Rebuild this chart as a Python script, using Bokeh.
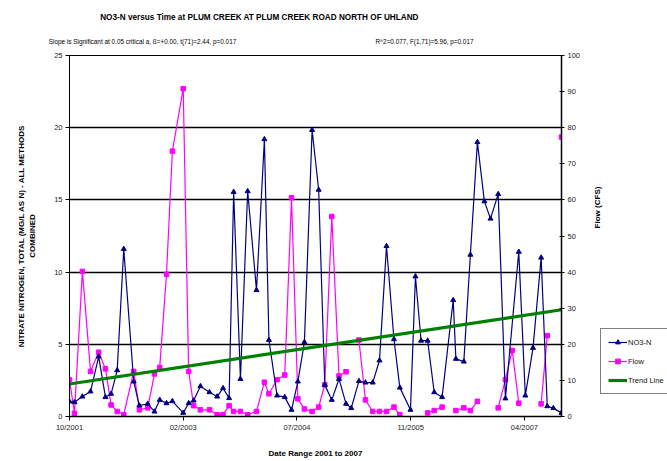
import math
import pandas as pd
from bokeh.plotting import figure
from bokeh.layouts import row
from bokeh.models import (Range1d, LinearAxis, FixedTicker, DatetimeTickFormatter,
                          Legend, LegendItem, ColumnDataSource, Label)
from bokeh.embed import file_html
from bokeh.resources import INLINE

# ---------------- data ----------------
title_text = "NO3-N versus Time at PLUM CREEK AT PLUM CREEK ROAD NORTH OF UHLAND"
stats_left = "Slope is Significant at 0.05 critical a, \u00df=+0.00, t(71)=2.44, p=0.017"
stats_right = "R^2=0.077, F(1,71)=5.96, p=0.017"
y_left_title = "NITRATE NITROGEN, TOTAL (MG/L AS N) - ALL METHODS\nCOMBINED"
y_right_title = "Flow (CFS)"
x_title = "Date Range 2001 to 2007"
series_names = ["NO3-N", "Flow", "Trend Line"]

nan = float("nan")

sample_dates = [
    "2001-10-09", "2001-10-31", "2001-12-05", "2002-01-10", "2002-02-15", "2002-03-17",
    "2002-04-11", "2002-05-08", "2002-06-06", "2002-07-20", "2002-08-14", "2002-09-20",
    "2002-10-20", "2002-11-12", "2002-12-12", "2003-01-07", "2003-02-24", "2003-03-20",
    "2003-04-11", "2003-05-11", "2003-06-20", "2003-07-24", "2003-08-19", "2003-09-15",
    "2003-10-05", "2003-11-04", "2003-12-06", "2004-01-14", "2004-02-18", "2004-03-09",
    "2004-04-14", "2004-05-18", "2004-06-17", "2004-07-15", "2004-08-13", "2004-09-16",
    "2004-10-15", "2004-11-11", "2004-12-12", "2005-01-13", "2005-02-13", "2005-03-08",
    "2005-04-11", "2005-05-10", "2005-06-11", "2005-07-11", "2005-08-11", "2005-09-13",
    "2005-10-09", "2005-11-25", "2005-12-17", "2006-01-11", "2006-02-09", "2006-03-10",
    "2006-04-14", "2006-06-02", "2006-06-14", "2006-07-19", "2006-08-17", "2006-09-17",
    "2006-10-18", "2006-11-14", "2006-12-18", "2007-01-19", "2007-02-18", "2007-03-19",
    "2007-04-17", "2007-05-21", "2007-06-26", "2007-07-23", "2007-08-19", "2007-09-24",
]

no3_n = [
    1.04, 0.99, 1.38, 1.73, 4.15, 1.34,
    1.57, 3.2, 11.6, 2.42, 0.76, 0.88,
    0.34, 1.15, 0.92, 1.06, 0.25, 0.92,
    1.11, 2.1, 1.68, 1.38, 1.96, 1.27,
    15.55, 2.6, 15.6, 8.75, 19.2, 5.3,
    1.45, 1.34, 0.46, 2.42, 5.15, 19.84,
    15.7, 2.19, 1.15, 2.6, 0.88, 0.58,
    2.45, 2.35, 2.35, 3.88, 11.8, 5.35,
    2.0, 0.46, 9.7, 5.25, 5.25, 1.68,
    1.34, 8.06, 3.99, 3.8, 11.2, 19.0,
    14.9, 13.7, 15.4, 1.25, nan, 11.4,
    1.45, 4.75, 11.0, 0.71, 0.58, 0.25,
]

flow_cfs = [
    10.2, 0.9, 40.2, 12.5, 17.8, 13.2,
    3.2, 1.4, 0.5, 12.5, 1.85, 2.4,
    11.8, 13.6, 39.4, 73.5, 90.8, 12.5,
    3.0, 1.85, 1.85, 0.5, 0.5, 3.0,
    1.4, 1.4, 0.5, 1.4, 9.5, 6.3,
    10.2, 11.5, 60.6, 4.9, 2.1, 1.4,
    2.6, 8.8, 55.4, 11.2, 12.4, nan,
    21.2, 4.6, 1.4, 1.4, 1.4, 2.6,
    0.55, nan, nan, nan, 1.0, 1.65,
    2.6, nan, 1.65, 2.4, 1.65, 4.2,
    nan, nan, 2.4, 10.2, 18.3, 3.7,
    nan, nan, 3.5, 22.4, nan, 77.4,
]

trend_dates = ["2001-10-09", "2007-09-24"]
trend_values = [2.25, 7.39]

x_tick_dates = ["2001-10-09", "2003-02-24", "2004-07-11", "2005-11-26", "2007-04-13"]
left_ticks = [0, 5, 10, 15, 20, 25]
right_ticks = [0, 10, 20, 30, 40, 50, 60, 70, 80, 90, 100]

# ---------------- styles ----------------
FONT = "Liberation Sans"
NO3_COLOR, FLOW_COLOR, TREND_COLOR = "#000080", "#FF00FF", "#008000"
FL, FR = 69, 561          # frame left/right in page pixels
FT, FB = 55, 416          # frame top/bottom in page pixels
MAIN_W = 584
H = 461

dates = pd.to_datetime(sample_dates)
x0 = pd.Timestamp(trend_dates[0])
x1 = pd.Timestamp(trend_dates[1])

p = figure(width=MAIN_W, height=H, x_axis_type="datetime",
           x_range=Range1d(x0, x1), y_range=Range1d(0, 25),
           output_backend="svg", toolbar_location=None,
           min_border_left=FL, min_border_right=MAIN_W - FR,
           min_border_top=FT, min_border_bottom=H - FB)
p.extra_y_ranges = {"flow": Range1d(0, 100)}
p.extra_x_ranges = {"page_x": Range1d(FL, FR)}   # pixel-like range used to place header texts
p.background_fill_color = "white"
p.border_fill_color = "white"
p.outline_line_color = "black"
p.outline_line_width = 1

# grid
p.xgrid.visible = False
p.ygrid.ticker = FixedTicker(ticks=[5, 10, 15, 20])
p.ygrid.grid_line_color = "black"
p.ygrid.grid_line_width = 1.5


def style_ticks(ax, tick_out, tick_in, standoff):
    ax.axis_line_color = "black"
    ax.major_tick_line_color = "black"
    ax.major_tick_out = tick_out
    ax.major_tick_in = tick_in
    ax.minor_tick_line_color = None
    ax.major_label_text_font = FONT
    ax.major_label_text_font_size = "7.5px"
    ax.major_label_text_color = "#222222"
    ax.major_label_standoff = standoff


def style_title(ax, text, standoff):
    ax.axis_label = text
    ax.axis_label_text_font = FONT
    ax.axis_label_text_font_size = "8px"
    ax.axis_label_text_font_style = "bold"
    ax.axis_label_text_color = "black"
    ax.axis_label_standoff = standoff


# left axis
ya = p.yaxis[0]
ya.ticker = FixedTicker(ticks=left_ticks)
style_ticks(ya, 4, 0, 3)
style_title(ya, y_left_title, 14)

# right axis (its title is drawn in the side panel figure)
ra = LinearAxis(y_range_name="flow", ticker=FixedTicker(ticks=right_ticks))
style_ticks(ra, 3, 2, 3)
ra.axis_line_width = 1.5
p.add_layout(ra, "right")

# bottom axis
xa = p.xaxis[0]
xa.ticker = FixedTicker(ticks=[pd.Timestamp(d).value / 1e6 for d in x_tick_dates])
fmt = "%m/%Y"
xa.formatter = DatetimeTickFormatter(milliseconds=fmt, seconds=fmt, minsec=fmt, minutes=fmt,
                                     hourmin=fmt, hours=fmt, days=fmt, months=fmt, years=fmt)
style_ticks(xa, 4, 0, 2)
xa.axis_line_width = 1.5
style_title(xa, x_title, 14)


def header_axis(ticks, texts, size, standoff, bold=False):
    ax = LinearAxis(x_range_name="page_x", ticker=FixedTicker(ticks=ticks),
                    major_label_overrides=dict(zip(ticks, texts)))
    ax.axis_line_color = None
    ax.major_tick_line_color = None
    ax.minor_tick_line_color = None
    ax.major_tick_out = 0
    ax.major_tick_in = 0
    ax.major_label_standoff = standoff
    ax.major_label_text_font = FONT
    ax.major_label_text_font_size = size
    ax.major_label_text_font_style = "bold" if bold else "normal"
    ax.major_label_text_color = "black"
    p.add_layout(ax, "above")


# header texts (nearest the plot first)
header_axis([142, 424], [stats_left, stats_right], "6.4px", 11)
header_axis([259], [title_text], "8.2px", 13, bold=True)

# series
no3_mask = [not math.isnan(v) for v in no3_n]
no3_src = ColumnDataSource(dict(x=[d for d, m in zip(dates, no3_mask) if m],
                                y=[v for v, m in zip(no3_n, no3_mask) if m]))
flow_src = ColumnDataSource(dict(x=list(dates), y=flow_cfs))

p.line("x", "y", source=flow_src, y_range_name="flow", line_color=FLOW_COLOR, line_width=1.2)
p.scatter("x", "y", source=flow_src, y_range_name="flow", marker="square",
          size=4.5, fill_color=FLOW_COLOR, line_color=FLOW_COLOR)
p.line("x", "y", source=no3_src, line_color=NO3_COLOR, line_width=1.2)
p.scatter("x", "y", source=no3_src, marker="triangle", size=5,
          fill_color=NO3_COLOR, line_color=NO3_COLOR)
p.line(pd.to_datetime(trend_dates), trend_values, line_color=TREND_COLOR, line_width=3.2)

# ---------------- side panel figure: right-axis title and legend ----------------
LEG_W = 667 - MAIN_W
q = figure(width=LEG_W, height=H, x_range=Range1d(0, 1), y_range=Range1d(0, 1),
           output_backend="svg", toolbar_location=None,
           x_axis_location=None, y_axis_location=None,
           min_border=0, min_border_left=0, min_border_right=0,
           min_border_top=FT, min_border_bottom=H - FB)
q.grid.visible = False
q.outline_line_color = None
q.background_fill_color = "white"
q.border_fill_color = "white"

q.add_layout(Label(x=597 - MAIN_W, y=FB - 207, x_units="screen", y_units="screen",
                   text=y_right_title, angle=math.pi / 2, text_align="center",
                   text_baseline="middle", text_font=FONT, text_font_size="8px",
                   text_font_style="bold", text_color="black"))

# legend-only renderers (no visible data)
blank = ColumnDataSource(dict(x=[nan], y=[nan]))
l_no3 = q.line("x", "y", source=blank, line_color=NO3_COLOR, line_width=1.2)
m_no3 = q.scatter("x", "y", source=blank, marker="triangle", size=5,
                  fill_color=NO3_COLOR, line_color=NO3_COLOR)
l_flow = q.line("x", "y", source=blank, line_color=FLOW_COLOR, line_width=1.2)
m_flow = q.scatter("x", "y", source=blank, marker="square", size=4.5,
                   fill_color=FLOW_COLOR, line_color=FLOW_COLOR)
l_trend = q.line("x", "y", source=blank, line_color=TREND_COLOR, line_width=3.2)

legend = Legend(items=[LegendItem(label=series_names[0], renderers=[l_no3, m_no3]),
                       LegendItem(label=series_names[1], renderers=[l_flow, m_flow]),
                       LegendItem(label=series_names[2], renderers=[l_trend])],
                location=(600 - MAIN_W, FB - 394))
legend.border_line_color = "black"
legend.border_line_width = 1
legend.background_fill_color = "white"
legend.background_fill_alpha = 1
legend.label_text_font = FONT
legend.label_text_font_size = "7.5px"
legend.label_text_color = "#111111"
legend.glyph_width = 19
legend.glyph_height = 12
legend.label_height = 12
legend.label_standoff = 1
legend.padding = 7
legend.spacing = 7
legend.margin = 0
q.add_layout(legend)

layout = row(p, q, spacing=0)
open("out.html", "w").write(file_html(layout, INLINE))
